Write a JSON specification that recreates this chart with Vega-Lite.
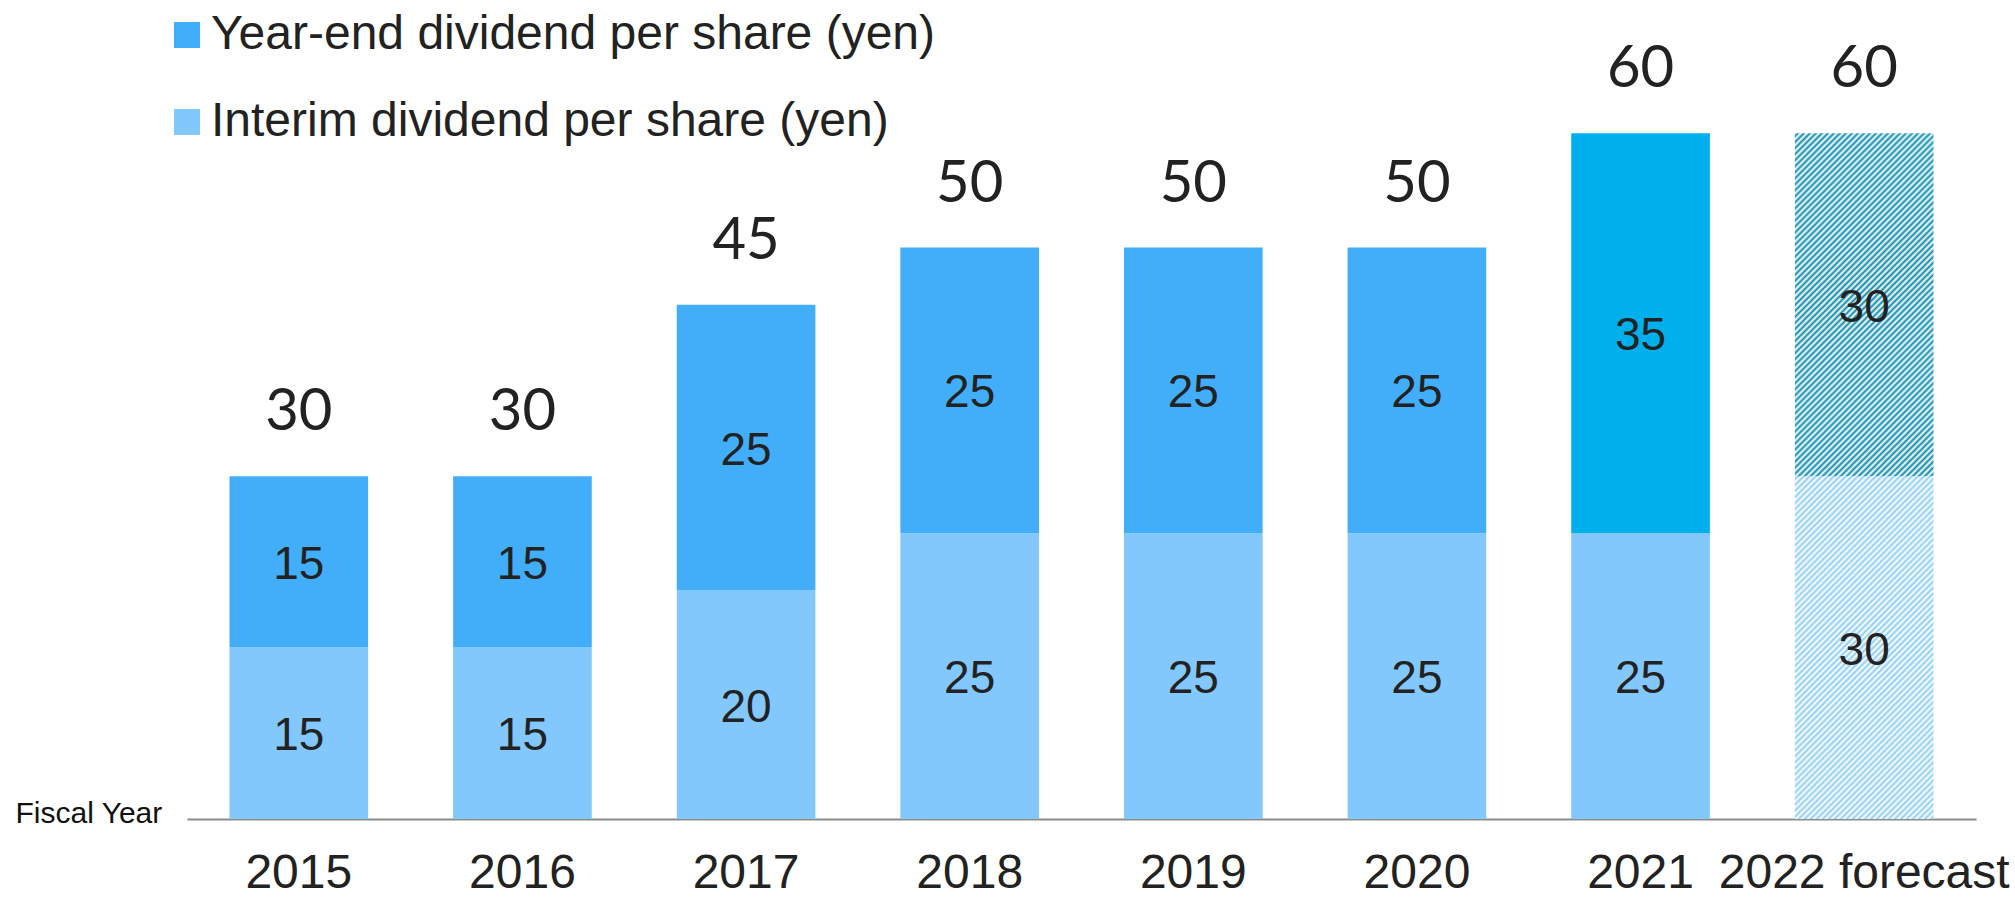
{
  "$schema": "https://vega.github.io/schema/vega-lite/v6.json",
  "autosize": {"type": "none"},
  "width": 1789,
  "height": 800,
  "padding": {"left": 187, "top": 19, "right": 39, "bottom": 79},
  "background": "#ffffff",
  "config": {"view": {"stroke": null}},
  "data": {"values": [
    {"year": "2015", "type": "Interim dividend per share (yen)", "value": 15},
    {"year": "2015", "type": "Year-end dividend per share (yen)", "value": 15},
    {"year": "2016", "type": "Interim dividend per share (yen)", "value": 15},
    {"year": "2016", "type": "Year-end dividend per share (yen)", "value": 15},
    {"year": "2017", "type": "Interim dividend per share (yen)", "value": 20},
    {"year": "2017", "type": "Year-end dividend per share (yen)", "value": 25},
    {"year": "2018", "type": "Interim dividend per share (yen)", "value": 25},
    {"year": "2018", "type": "Year-end dividend per share (yen)", "value": 25},
    {"year": "2019", "type": "Interim dividend per share (yen)", "value": 25},
    {"year": "2019", "type": "Year-end dividend per share (yen)", "value": 25},
    {"year": "2020", "type": "Interim dividend per share (yen)", "value": 25},
    {"year": "2020", "type": "Year-end dividend per share (yen)", "value": 25},
    {"year": "2021", "type": "Interim dividend per share (yen)", "value": 25},
    {"year": "2021", "type": "Year-end dividend per share (yen)", "value": 35},
    {"year": "2022 forecast", "type": "Interim dividend per share (yen)", "value": 30},
    {"year": "2022 forecast", "type": "Year-end dividend per share (yen)", "value": 30}
  ]},
  "transform": [
    {"stack": "value", "groupby": ["year"], "sort": [{"field": "type", "order": "ascending"}], "as": ["v0", "v1"]}
  ],
  "encoding": {
    "x": {
      "field": "year", "type": "nominal",
      "scale": {"paddingInner": 0.38, "paddingOuter": 0.19},
      "axis": {
        "title": "Fiscal Year", "titleFont": "Liberation Sans", "titleFontSize": 30, "titleFontWeight": "normal",
        "titleColor": "#111111", "titleX": -172, "titleY": -6, "titleAlign": "left", "titleBaseline": "middle", "titleAngle": 0,
        "domainColor": "#8c8c8c", "domainWidth": 2, "ticks": false,
        "labelFont": "Liberation Sans", "labelFontSize": 48, "labelColor": "#222222", "labelPadding": 30, "labelAngle": 0,
        "labelLimit": 0, "labelOverlap": false, "labelBound": false
      }
    }
  },
  "layer": [
    {
      "transform": [{"filter": "datum.year !== '2022 forecast'"}],
      "mark": {"type": "bar"},
      "encoding": {
        "y": {"field": "v0", "type": "quantitative", "scale": {"domain": [0, 70], "nice": false}, "axis": null},
        "y2": {"field": "v1"},
        "color": {
          "field": "type", "type": "nominal",
          "scale": {"domain": ["Year-end dividend per share (yen)", "Interim dividend per share (yen)"], "range": ["#42aef9", "#83c8fc"]},
          "legend": {"orient": "none", "legendX": -24, "legendY": -8, "title": null, "direction": "vertical",
            "symbolType": "square", "symbolSize": 676, "symbolStrokeWidth": 0, "labelFont": "Liberation Sans",
            "labelFontSize": 48, "labelColor": "#222222", "rowPadding": 39, "labelOffset": 0, "labelLimit": 0},
          "condition": {"test": "datum.year === '2021' && datum.type === 'Year-end dividend per share (yen)'", "value": "#00b0ec"}
        }
      }
    },
    {
      "transform": [{"filter": "datum.year === '2022 forecast' && datum.type === 'Interim dividend per share (yen)'"}],
      "mark": {"type": "bar", "color": {"gradient": "linear", "x1": 0, "y1": 0, "x2": 0.49, "y2": 1.208, "stops": [
{"offset":0,"color":"#fff"},{"offset":0.00625,"color":"#8ecdf6"},{"offset":0.0125,"color":"#fff"},{"offset":0.01875,"color":"#8ecdf6"},{"offset":0.025,"color":"#fff"},{"offset":0.03125,"color":"#8ecdf6"},{"offset":0.0375,"color":"#fff"},{"offset":0.04375,"color":"#8ecdf6"},{"offset":0.05,"color":"#fff"},{"offset":0.05625,"color":"#8ecdf6"},{"offset":0.0625,"color":"#fff"},{"offset":0.06875,"color":"#8ecdf6"},{"offset":0.075,"color":"#fff"},{"offset":0.08125,"color":"#8ecdf6"},{"offset":0.0875,"color":"#fff"},{"offset":0.09375,"color":"#8ecdf6"},
{"offset":0.1,"color":"#fff"},{"offset":0.10625,"color":"#8ecdf6"},{"offset":0.1125,"color":"#fff"},{"offset":0.11875,"color":"#8ecdf6"},{"offset":0.125,"color":"#fff"},{"offset":0.13125,"color":"#8ecdf6"},{"offset":0.1375,"color":"#fff"},{"offset":0.14375,"color":"#8ecdf6"},{"offset":0.15,"color":"#fff"},{"offset":0.15625,"color":"#8ecdf6"},{"offset":0.1625,"color":"#fff"},{"offset":0.16875,"color":"#8ecdf6"},{"offset":0.175,"color":"#fff"},{"offset":0.18125,"color":"#8ecdf6"},{"offset":0.1875,"color":"#fff"},{"offset":0.19375,"color":"#8ecdf6"},
{"offset":0.2,"color":"#fff"},{"offset":0.20625,"color":"#8ecdf6"},{"offset":0.2125,"color":"#fff"},{"offset":0.21875,"color":"#8ecdf6"},{"offset":0.225,"color":"#fff"},{"offset":0.23125,"color":"#8ecdf6"},{"offset":0.2375,"color":"#fff"},{"offset":0.24375,"color":"#8ecdf6"},{"offset":0.25,"color":"#fff"},{"offset":0.25625,"color":"#8ecdf6"},{"offset":0.2625,"color":"#fff"},{"offset":0.26875,"color":"#8ecdf6"},{"offset":0.275,"color":"#fff"},{"offset":0.28125,"color":"#8ecdf6"},{"offset":0.2875,"color":"#fff"},{"offset":0.29375,"color":"#8ecdf6"},
{"offset":0.3,"color":"#fff"},{"offset":0.30625,"color":"#8ecdf6"},{"offset":0.3125,"color":"#fff"},{"offset":0.31875,"color":"#8ecdf6"},{"offset":0.325,"color":"#fff"},{"offset":0.33125,"color":"#8ecdf6"},{"offset":0.3375,"color":"#fff"},{"offset":0.34375,"color":"#8ecdf6"},{"offset":0.35,"color":"#fff"},{"offset":0.35625,"color":"#8ecdf6"},{"offset":0.3625,"color":"#fff"},{"offset":0.36875,"color":"#8ecdf6"},{"offset":0.375,"color":"#fff"},{"offset":0.38125,"color":"#8ecdf6"},{"offset":0.3875,"color":"#fff"},{"offset":0.39375,"color":"#8ecdf6"},
{"offset":0.4,"color":"#fff"},{"offset":0.40625,"color":"#8ecdf6"},{"offset":0.4125,"color":"#fff"},{"offset":0.41875,"color":"#8ecdf6"},{"offset":0.425,"color":"#fff"},{"offset":0.43125,"color":"#8ecdf6"},{"offset":0.4375,"color":"#fff"},{"offset":0.44375,"color":"#8ecdf6"},{"offset":0.45,"color":"#fff"},{"offset":0.45625,"color":"#8ecdf6"},{"offset":0.4625,"color":"#fff"},{"offset":0.46875,"color":"#8ecdf6"},{"offset":0.475,"color":"#fff"},{"offset":0.48125,"color":"#8ecdf6"},{"offset":0.4875,"color":"#fff"},{"offset":0.49375,"color":"#8ecdf6"},
{"offset":0.5,"color":"#fff"},{"offset":0.50625,"color":"#8ecdf6"},{"offset":0.5125,"color":"#fff"},{"offset":0.51875,"color":"#8ecdf6"},{"offset":0.525,"color":"#fff"},{"offset":0.53125,"color":"#8ecdf6"},{"offset":0.5375,"color":"#fff"},{"offset":0.54375,"color":"#8ecdf6"},{"offset":0.55,"color":"#fff"},{"offset":0.55625,"color":"#8ecdf6"},{"offset":0.5625,"color":"#fff"},{"offset":0.56875,"color":"#8ecdf6"},{"offset":0.575,"color":"#fff"},{"offset":0.58125,"color":"#8ecdf6"},{"offset":0.5875,"color":"#fff"},{"offset":0.59375,"color":"#8ecdf6"},
{"offset":0.6,"color":"#fff"},{"offset":0.60625,"color":"#8ecdf6"},{"offset":0.6125,"color":"#fff"},{"offset":0.61875,"color":"#8ecdf6"},{"offset":0.625,"color":"#fff"},{"offset":0.63125,"color":"#8ecdf6"},{"offset":0.6375,"color":"#fff"},{"offset":0.64375,"color":"#8ecdf6"},{"offset":0.65,"color":"#fff"},{"offset":0.65625,"color":"#8ecdf6"},{"offset":0.6625,"color":"#fff"},{"offset":0.66875,"color":"#8ecdf6"},{"offset":0.675,"color":"#fff"},{"offset":0.68125,"color":"#8ecdf6"},{"offset":0.6875,"color":"#fff"},{"offset":0.69375,"color":"#8ecdf6"},
{"offset":0.7,"color":"#fff"},{"offset":0.70625,"color":"#8ecdf6"},{"offset":0.7125,"color":"#fff"},{"offset":0.71875,"color":"#8ecdf6"},{"offset":0.725,"color":"#fff"},{"offset":0.73125,"color":"#8ecdf6"},{"offset":0.7375,"color":"#fff"},{"offset":0.74375,"color":"#8ecdf6"},{"offset":0.75,"color":"#fff"},{"offset":0.75625,"color":"#8ecdf6"},{"offset":0.7625,"color":"#fff"},{"offset":0.76875,"color":"#8ecdf6"},{"offset":0.775,"color":"#fff"},{"offset":0.78125,"color":"#8ecdf6"},{"offset":0.7875,"color":"#fff"},{"offset":0.79375,"color":"#8ecdf6"},
{"offset":0.8,"color":"#fff"},{"offset":0.80625,"color":"#8ecdf6"},{"offset":0.8125,"color":"#fff"},{"offset":0.81875,"color":"#8ecdf6"},{"offset":0.825,"color":"#fff"},{"offset":0.83125,"color":"#8ecdf6"},{"offset":0.8375,"color":"#fff"},{"offset":0.84375,"color":"#8ecdf6"},{"offset":0.85,"color":"#fff"},{"offset":0.85625,"color":"#8ecdf6"},{"offset":0.8625,"color":"#fff"},{"offset":0.86875,"color":"#8ecdf6"},{"offset":0.875,"color":"#fff"},{"offset":0.88125,"color":"#8ecdf6"},{"offset":0.8875,"color":"#fff"},{"offset":0.89375,"color":"#8ecdf6"},
{"offset":0.9,"color":"#fff"},{"offset":0.90625,"color":"#8ecdf6"},{"offset":0.9125,"color":"#fff"},{"offset":0.91875,"color":"#8ecdf6"},{"offset":0.925,"color":"#fff"},{"offset":0.93125,"color":"#8ecdf6"},{"offset":0.9375,"color":"#fff"},{"offset":0.94375,"color":"#8ecdf6"},{"offset":0.95,"color":"#fff"},{"offset":0.95625,"color":"#8ecdf6"},{"offset":0.9625,"color":"#fff"},{"offset":0.96875,"color":"#8ecdf6"},{"offset":0.975,"color":"#fff"},{"offset":0.98125,"color":"#8ecdf6"},{"offset":0.9875,"color":"#fff"},{"offset":0.99375,"color":"#8ecdf6"},
{"offset":1,"color":"#fff"}
      ]}},
      "encoding": {
        "y": {"field": "v0", "type": "quantitative"},
        "y2": {"field": "v1"}
      }
    },
    {
      "transform": [{"filter": "datum.year === '2022 forecast' && datum.type === 'Year-end dividend per share (yen)'"}],
      "mark": {"type": "bar", "color": {"gradient": "linear", "x1": 0, "y1": 0, "x2": 0.49, "y2": 1.208, "stops": [
{"offset":0,"color":"#fff"},{"offset":0.00625,"color":"#0b8bb0"},{"offset":0.0125,"color":"#fff"},{"offset":0.01875,"color":"#0b8bb0"},{"offset":0.025,"color":"#fff"},{"offset":0.03125,"color":"#0b8bb0"},{"offset":0.0375,"color":"#fff"},{"offset":0.04375,"color":"#0b8bb0"},{"offset":0.05,"color":"#fff"},{"offset":0.05625,"color":"#0b8bb0"},{"offset":0.0625,"color":"#fff"},{"offset":0.06875,"color":"#0b8bb0"},{"offset":0.075,"color":"#fff"},{"offset":0.08125,"color":"#0b8bb0"},{"offset":0.0875,"color":"#fff"},{"offset":0.09375,"color":"#0b8bb0"},
{"offset":0.1,"color":"#fff"},{"offset":0.10625,"color":"#0b8bb0"},{"offset":0.1125,"color":"#fff"},{"offset":0.11875,"color":"#0b8bb0"},{"offset":0.125,"color":"#fff"},{"offset":0.13125,"color":"#0b8bb0"},{"offset":0.1375,"color":"#fff"},{"offset":0.14375,"color":"#0b8bb0"},{"offset":0.15,"color":"#fff"},{"offset":0.15625,"color":"#0b8bb0"},{"offset":0.1625,"color":"#fff"},{"offset":0.16875,"color":"#0b8bb0"},{"offset":0.175,"color":"#fff"},{"offset":0.18125,"color":"#0b8bb0"},{"offset":0.1875,"color":"#fff"},{"offset":0.19375,"color":"#0b8bb0"},
{"offset":0.2,"color":"#fff"},{"offset":0.20625,"color":"#0b8bb0"},{"offset":0.2125,"color":"#fff"},{"offset":0.21875,"color":"#0b8bb0"},{"offset":0.225,"color":"#fff"},{"offset":0.23125,"color":"#0b8bb0"},{"offset":0.2375,"color":"#fff"},{"offset":0.24375,"color":"#0b8bb0"},{"offset":0.25,"color":"#fff"},{"offset":0.25625,"color":"#0b8bb0"},{"offset":0.2625,"color":"#fff"},{"offset":0.26875,"color":"#0b8bb0"},{"offset":0.275,"color":"#fff"},{"offset":0.28125,"color":"#0b8bb0"},{"offset":0.2875,"color":"#fff"},{"offset":0.29375,"color":"#0b8bb0"},
{"offset":0.3,"color":"#fff"},{"offset":0.30625,"color":"#0b8bb0"},{"offset":0.3125,"color":"#fff"},{"offset":0.31875,"color":"#0b8bb0"},{"offset":0.325,"color":"#fff"},{"offset":0.33125,"color":"#0b8bb0"},{"offset":0.3375,"color":"#fff"},{"offset":0.34375,"color":"#0b8bb0"},{"offset":0.35,"color":"#fff"},{"offset":0.35625,"color":"#0b8bb0"},{"offset":0.3625,"color":"#fff"},{"offset":0.36875,"color":"#0b8bb0"},{"offset":0.375,"color":"#fff"},{"offset":0.38125,"color":"#0b8bb0"},{"offset":0.3875,"color":"#fff"},{"offset":0.39375,"color":"#0b8bb0"},
{"offset":0.4,"color":"#fff"},{"offset":0.40625,"color":"#0b8bb0"},{"offset":0.4125,"color":"#fff"},{"offset":0.41875,"color":"#0b8bb0"},{"offset":0.425,"color":"#fff"},{"offset":0.43125,"color":"#0b8bb0"},{"offset":0.4375,"color":"#fff"},{"offset":0.44375,"color":"#0b8bb0"},{"offset":0.45,"color":"#fff"},{"offset":0.45625,"color":"#0b8bb0"},{"offset":0.4625,"color":"#fff"},{"offset":0.46875,"color":"#0b8bb0"},{"offset":0.475,"color":"#fff"},{"offset":0.48125,"color":"#0b8bb0"},{"offset":0.4875,"color":"#fff"},{"offset":0.49375,"color":"#0b8bb0"},
{"offset":0.5,"color":"#fff"},{"offset":0.50625,"color":"#0b8bb0"},{"offset":0.5125,"color":"#fff"},{"offset":0.51875,"color":"#0b8bb0"},{"offset":0.525,"color":"#fff"},{"offset":0.53125,"color":"#0b8bb0"},{"offset":0.5375,"color":"#fff"},{"offset":0.54375,"color":"#0b8bb0"},{"offset":0.55,"color":"#fff"},{"offset":0.55625,"color":"#0b8bb0"},{"offset":0.5625,"color":"#fff"},{"offset":0.56875,"color":"#0b8bb0"},{"offset":0.575,"color":"#fff"},{"offset":0.58125,"color":"#0b8bb0"},{"offset":0.5875,"color":"#fff"},{"offset":0.59375,"color":"#0b8bb0"},
{"offset":0.6,"color":"#fff"},{"offset":0.60625,"color":"#0b8bb0"},{"offset":0.6125,"color":"#fff"},{"offset":0.61875,"color":"#0b8bb0"},{"offset":0.625,"color":"#fff"},{"offset":0.63125,"color":"#0b8bb0"},{"offset":0.6375,"color":"#fff"},{"offset":0.64375,"color":"#0b8bb0"},{"offset":0.65,"color":"#fff"},{"offset":0.65625,"color":"#0b8bb0"},{"offset":0.6625,"color":"#fff"},{"offset":0.66875,"color":"#0b8bb0"},{"offset":0.675,"color":"#fff"},{"offset":0.68125,"color":"#0b8bb0"},{"offset":0.6875,"color":"#fff"},{"offset":0.69375,"color":"#0b8bb0"},
{"offset":0.7,"color":"#fff"},{"offset":0.70625,"color":"#0b8bb0"},{"offset":0.7125,"color":"#fff"},{"offset":0.71875,"color":"#0b8bb0"},{"offset":0.725,"color":"#fff"},{"offset":0.73125,"color":"#0b8bb0"},{"offset":0.7375,"color":"#fff"},{"offset":0.74375,"color":"#0b8bb0"},{"offset":0.75,"color":"#fff"},{"offset":0.75625,"color":"#0b8bb0"},{"offset":0.7625,"color":"#fff"},{"offset":0.76875,"color":"#0b8bb0"},{"offset":0.775,"color":"#fff"},{"offset":0.78125,"color":"#0b8bb0"},{"offset":0.7875,"color":"#fff"},{"offset":0.79375,"color":"#0b8bb0"},
{"offset":0.8,"color":"#fff"},{"offset":0.80625,"color":"#0b8bb0"},{"offset":0.8125,"color":"#fff"},{"offset":0.81875,"color":"#0b8bb0"},{"offset":0.825,"color":"#fff"},{"offset":0.83125,"color":"#0b8bb0"},{"offset":0.8375,"color":"#fff"},{"offset":0.84375,"color":"#0b8bb0"},{"offset":0.85,"color":"#fff"},{"offset":0.85625,"color":"#0b8bb0"},{"offset":0.8625,"color":"#fff"},{"offset":0.86875,"color":"#0b8bb0"},{"offset":0.875,"color":"#fff"},{"offset":0.88125,"color":"#0b8bb0"},{"offset":0.8875,"color":"#fff"},{"offset":0.89375,"color":"#0b8bb0"},
{"offset":0.9,"color":"#fff"},{"offset":0.90625,"color":"#0b8bb0"},{"offset":0.9125,"color":"#fff"},{"offset":0.91875,"color":"#0b8bb0"},{"offset":0.925,"color":"#fff"},{"offset":0.93125,"color":"#0b8bb0"},{"offset":0.9375,"color":"#fff"},{"offset":0.94375,"color":"#0b8bb0"},{"offset":0.95,"color":"#fff"},{"offset":0.95625,"color":"#0b8bb0"},{"offset":0.9625,"color":"#fff"},{"offset":0.96875,"color":"#0b8bb0"},{"offset":0.975,"color":"#fff"},{"offset":0.98125,"color":"#0b8bb0"},{"offset":0.9875,"color":"#fff"},{"offset":0.99375,"color":"#0b8bb0"},
{"offset":1,"color":"#fff"}
      ]}},
      "encoding": {
        "y": {"field": "v0", "type": "quantitative"},
        "y2": {"field": "v1"}
      }
    },
    {
      "transform": [{"calculate": "(datum.v0 + datum.v1) / 2", "as": "mid"}],
      "mark": {"type": "text", "font": "Liberation Sans", "fontSize": 46, "color": "#222222", "align": "center", "baseline": "middle", "dy": 3},
      "encoding": {
        "y": {"field": "mid", "type": "quantitative"},
        "text": {"field": "value", "type": "quantitative"}
      }
    },
    {
      "transform": [{"aggregate": [{"op": "sum", "field": "value", "as": "total"}], "groupby": ["year"]}],
      "mark": {"type": "text", "font": "Lato", "fontSize": 58, "color": "#222222", "align": "center", "baseline": "alphabetic", "dy": -46},
      "encoding": {
        "y": {"field": "total", "type": "quantitative"},
        "text": {"field": "total", "type": "quantitative"}
      }
    }
  ]
}
